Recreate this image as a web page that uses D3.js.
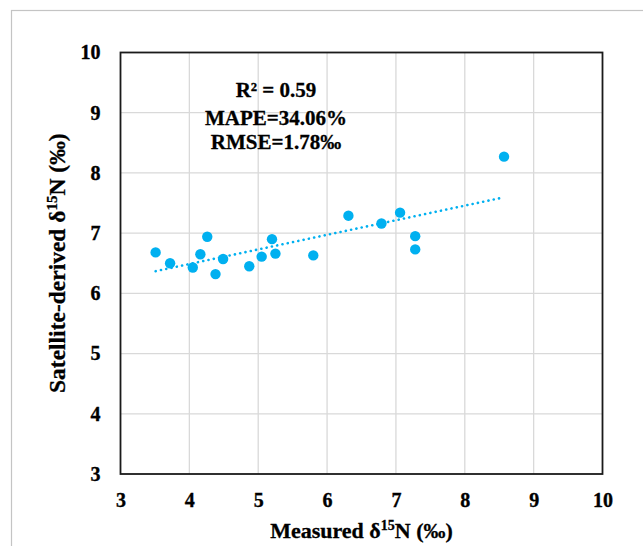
<!DOCTYPE html>
<html>
<head>
<meta charset="utf-8">
<script src="https://cdn.jsdelivr.net/npm/d3@7"></script>
<style>
  body { margin: 0; background: #fff; }
  text { font-family: "Liberation Serif", "Times New Roman", serif; font-weight: bold; fill: #000; }
</style>
</head>
<body>
<svg id="chart" width="643" height="546"></svg>
<script>
// Measured vs satellite-derived values
var measured  = [3.51, 3.72, 4.05, 4.16, 4.26, 4.38, 4.49, 4.87, 5.05, 5.20, 5.25, 5.80, 6.31, 6.79, 7.06, 7.28, 7.28, 8.57];
var satellite = [6.68, 6.50, 6.43, 6.65, 6.94, 6.32, 6.57, 6.45, 6.61, 6.90, 6.66, 6.63, 7.29, 7.16, 7.34, 6.95, 6.73, 8.27];
var ticks = [3, 4, 5, 6, 7, 8, 9, 10];
var stats = ["R\u00B2 = 0.59", "MAPE=34.06%", "RMSE=1.78\u2030"];

var svg = d3.select("#chart");
var blue = "#00B0F0";

// outer frame
svg.append("rect")
  .attr("x", 11.5).attr("y", 10.5)
  .attr("width", 700).attr("height", 600)
  .attr("fill", "none").attr("stroke", "#c4c4c4").attr("stroke-width", 1.2);

var x = d3.scaleLinear().domain([3, 10]).range([120.5, 602.5]);
var y = d3.scaleLinear().domain([3, 10]).range([474, 52.5]);

var g = svg.append("g");

// gridlines
g.selectAll(".vgrid")
  .data(ticks.slice(1, -1)).enter()
  .append("line")
  .attr("x1", function (d) { return x(d); })
  .attr("x2", function (d) { return x(d); })
  .attr("y1", y(3)).attr("y2", y(10))
  .attr("stroke", "#d9d9d9").attr("stroke-width", 1.3);

g.selectAll(".hgrid")
  .data(ticks.slice(1, -1)).enter()
  .append("line")
  .attr("y1", function (d) { return y(d); })
  .attr("y2", function (d) { return y(d); })
  .attr("x1", x(3)).attr("x2", x(10))
  .attr("stroke", "#d9d9d9").attr("stroke-width", 1.3);

// axes (labels only, box drawn separately)
var fmt = d3.format("d");
var xAxis = d3.axisBottom(x).tickValues(ticks).tickFormat(fmt).tickSize(0).tickPadding(19);
var yAxis = d3.axisLeft(y).tickValues(ticks).tickFormat(fmt).tickSize(0).tickPadding(20);

function styleTicks(a) {
  a.attr("font-family", "Liberation Serif")
    .attr("font-size", 20)
    .attr("font-weight", "bold");
  a.select(".domain").remove();
  a.selectAll("text")
    .attr("fill", "#000")
    .style("font-family", "'Liberation Serif', serif")
    .style("font-size", "20px")
    .style("font-weight", "bold")
    .style("stroke", "#000").style("stroke-width", "0.35px");
}

svg.append("g").attr("transform", "translate(0," + y(3) + ")").call(xAxis).call(styleTicks);
svg.append("g").attr("transform", "translate(" + x(3) + ",0)").call(yAxis).call(styleTicks);

// plot border
g.append("rect")
  .attr("x", x(3)).attr("y", y(10))
  .attr("width", x(10) - x(3)).attr("height", y(3) - y(10))
  .attr("fill", "none").attr("stroke", "#1a1a1a").attr("stroke-width", 1.8);

// linear trendline (least squares, like the spreadsheet)
var mx = d3.mean(measured), my = d3.mean(satellite);
var sxy = 0, sxx = 0;
measured.forEach(function (v, i) {
  sxy += (v - mx) * (satellite[i] - my);
  sxx += (v - mx) * (v - mx);
});
var slope = sxy / sxx;
var icpt = my - slope * mx;
var ext = d3.extent(measured);

g.append("line")
  .attr("x1", x(ext[0])).attr("y1", y(icpt + slope * ext[0]))
  .attr("x2", x(ext[1])).attr("y2", y(icpt + slope * ext[1]))
  .attr("stroke", blue).attr("stroke-width", 2.6)
  .attr("stroke-linecap", "round")
  .attr("stroke-dasharray", "0.1 5.3");

// points
g.selectAll("circle")
  .data(measured).enter()
  .append("circle")
  .attr("cx", function (d) { return x(d); })
  .attr("cy", function (d, i) { return y(satellite[i]); })
  .attr("r", 5.2)
  .attr("fill", blue);

// stats text
svg.selectAll(".stat")
  .data(stats).enter()
  .append("text")
  .attr("x", 276)
  .attr("y", function (d, i) { return [97, 125, 149][i]; })
  .attr("text-anchor", "middle")
  .style("font-size", "21px")
  .style("stroke", "#000").style("stroke-width", "0.3px")
  .text(function (d) { return d; });

// axis titles
function title(sel, label, size) {
  sel.attr("text-anchor", "middle")
    .style("font-size", size + "px")
    .style("stroke", "#000").style("stroke-width", "0.3px");
  sel.append("tspan").text(label + " \u03B4");
  sel.append("tspan").attr("dy", -Math.round(size * 0.36)).style("font-size", Math.round(size * 0.65) + "px").text("15");
  sel.append("tspan").attr("dy", Math.round(size * 0.36)).text("N (\u2030)");
}

var xt = svg.append("text")
  .attr("x", (x(3) + x(10)) / 2).attr("y", 538);
title(xt, "Measured", 22);

var yt = svg.append("text")
  .attr("transform", "translate(65," + ((y(3) + y(10)) / 2) + ") rotate(-90)");
title(yt, "Satellite-derived", 23.5);
</script>
</body>
</html>
